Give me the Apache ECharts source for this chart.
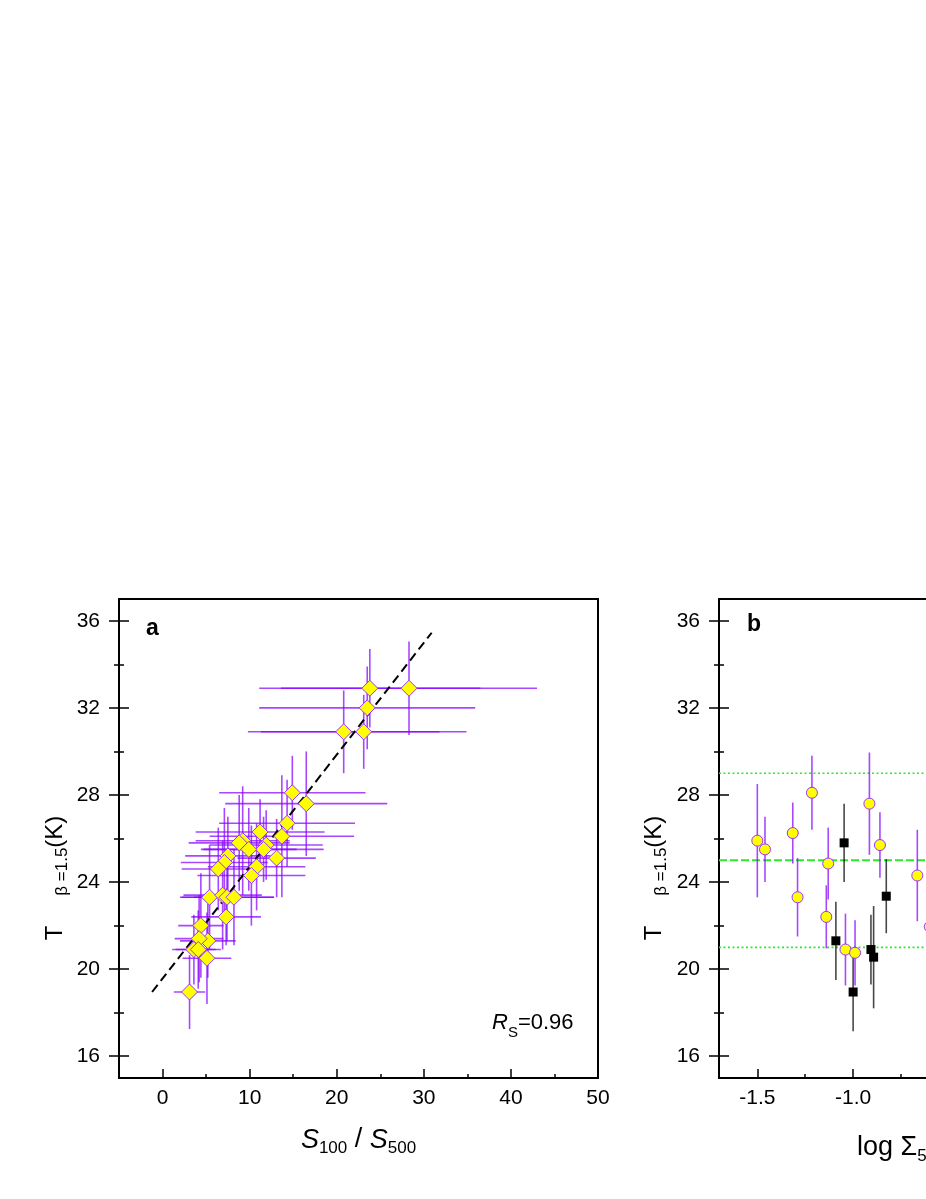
<!DOCTYPE html>
<html>
<head>
<meta charset="utf-8">
<title>T vs S100/S500 and log Sigma5</title>
<script src="https://cdn.jsdelivr.net/npm/echarts@6/dist/echarts.min.js"></script>
<style>
	html, body { margin: 0; padding: 0; background: #fff; }
	#chart { width: 926px; height: 1199px; }
</style>
</head>
<body>
<div id="chart"></div>
<script>
	// ---- panel a : S100/S500 vs T(beta=1.5) ----
	var ratioA = [20.8, 23.1, 23.5, 23.8, 28.3, 14.9, 16.5, 14.3, 13.7, 11.2, 11.9, 11.6, 13.1, 9.2, 8.8, 9.9, 7.5,
		7.1, 6.4, 10.8, 10.2, 5.4, 6.9, 7.4, 8.2, 7.3, 4.4, 5.2, 4.2, 3.6, 4.1, 5.1, 3.1];
	var tempA = [30.9, 30.9, 32.0, 32.9, 32.9, 28.1, 27.6, 26.7, 26.1, 26.3, 25.7, 25.5, 25.1, 25.9, 25.8, 25.5, 25.2,
		24.9, 24.6, 24.7, 24.3, 23.3, 23.4, 23.3, 23.3, 22.4, 22.0, 21.3, 21.4, 20.9, 20.9, 20.5, 18.95];
	var ratioErrA = [11.0, 11.8, 12.4, 12.7, 14.7, 8.4, 9.3, 7.8, 8.3, 7.4, 6.5, 6.9, 4.5, 5.4, 5.8, 5.5, 4.9,
		5.0, 4.2, 5.6, 6.2, 3.2, 4.5, 5.4, 4.6, 4.0, 2.6, 3.2, 2.8, 2.5, 2.6, 2.8, 1.8];
	var tempErrA = [1.9, 1.7, 1.9, 1.8, 2.15, 1.7, 2.4, 2.0, 2.8, 1.5, 1.6, 1.5, 1.8, 2.5, 2.2, 1.9, 1.8,
		2.5, 1.9, 2.0, 2.3, 2.4, 2.5, 2.0, 2.2, 1.3, 2.4, 1.7, 2.0, 1.6, 1.8, 2.1, 1.7];
	// dashed linear fit (end points)
	var fitX = [-1.2, 30.9];
	var fitT = [18.95, 35.45];

	// ---- panel b : log Sigma5 vs T(beta=1.5) ----
	var circX = [-1.50, -1.46, -1.315, -1.215, -1.29, -1.13, -1.14, -1.04, -0.99, -0.915, -0.86, -0.665, -0.60];
	var circT = [25.9, 25.5, 26.25, 28.1, 23.3, 24.85, 22.4, 20.9, 20.75, 27.6, 25.7, 24.3, 21.95];
	var circErr = [2.6, 1.5, 1.4, 1.7, 1.8, 1.65, 1.45, 1.65, 1.5, 2.35, 1.5, 2.1, 1.8];
	var sqX = [-1.047, -1.09, -1.0, -0.907, -0.893, -0.827];
	var sqT = [25.8, 21.3, 18.95, 20.9, 20.55, 23.35];
	var sqErr = [1.8, 1.8, 1.8, 1.6, 2.35, 1.7];
	// mean and +/- range lines
	var refT = [25, 29, 21];

	// ---- ticks ----
	var yMajor = [16, 20, 24, 28, 32, 36];
	var yMinor = [18, 22, 26, 30, 34];
	var aXMajor = [0, 10, 20, 30, 40, 50];
	var aXMinor = [-5, 5, 15, 25, 35, 45];
	var bXMajor = [-1.5, -1.0, -0.5, 0.0, 0.5];
	var bXMinor = [-1.25, -0.75, -0.25, 0.25, 0.75];

	var FONT = 'Arial, "Liberation Sans", Helvetica, sans-serif';
	var PURPLE = 'rgba(136, 0, 255, 0.72)';
	var EDGE = '#9933ff';
	var GREEN = '#2bea2b';

	function errBars(color, width) {
		return function (params, api) {
			var x = api.value(0), y = api.value(1), ex = api.value(2), ey = api.value(3);
			var st = { stroke: color, lineWidth: width };
			var lines = [];
			if (ex > 0) {
				var l = api.coord([x - ex, y]), r = api.coord([x + ex, y]);
				lines.push({ type: 'line', shape: { x1: l[0], y1: l[1], x2: r[0], y2: r[1] }, style: st });
			}
			var t = api.coord([x, y + ey]), b = api.coord([x, y - ey]);
			lines.push({ type: 'line', shape: { x1: t[0], y1: t[1], x2: b[0], y2: b[1] }, style: st });
			return { type: 'group', children: lines };
		};
	}

	function yAxes(g) {
		var base = function () {
			return {
				type: 'value', gridIndex: g, min: 15, max: 37, position: 'left',
				splitLine: { show: false }, axisLine: { show: false, onZero: false }, axisLabel: { show: false },
				axisTick: { show: false }
			};
		};
		var main = base();
		main.axisLine = { show: true, onZero: false, lineStyle: { color: '#000', width: 2 } };
		main.axisLabel = { show: true, customValues: yMajor, margin: 19, color: '#000', fontSize: 21, fontFamily: FONT };
		main.axisTick = { show: true, inside: true, length: 10, customValues: yMajor, lineStyle: { color: '#000', width: 1.5 } };
		var out = base();
		out.axisTick = { show: true, inside: false, length: 10, customValues: yMajor, lineStyle: { color: '#000', width: 1.5 } };
		var minIn = base();
		minIn.axisTick = { show: true, inside: true, length: 5, customValues: yMinor, lineStyle: { color: '#000', width: 1.5 } };
		var minOut = base();
		minOut.axisTick = { show: true, inside: false, length: 5, customValues: yMinor, lineStyle: { color: '#000', width: 1.5 } };
		return [main, out, minIn, minOut];
	}

	function xAxes(g, min, max, major, minor, fmt) {
		var main = {
			type: 'value', gridIndex: g, min: min, max: max, position: 'bottom',
			splitLine: { show: false },
			axisLine: { show: true, onZero: false, lineStyle: { color: '#000', width: 2 } },
			axisLabel: { show: true, customValues: major, margin: 10, color: '#000', fontSize: 21, fontFamily: FONT, formatter: fmt },
			axisTick: { show: true, inside: true, length: 9, customValues: major, lineStyle: { color: '#000', width: 1.5 } }
		};
		var sub = {
			type: 'value', gridIndex: g, min: min, max: max, position: 'bottom',
			splitLine: { show: false }, axisLine: { show: false, onZero: false }, axisLabel: { show: false },
			axisTick: { show: true, inside: true, length: 4, customValues: minor, lineStyle: { color: '#000', width: 1.5 } }
		};
		return [main, sub];
	}

	var main = { fontSize: 27, lineHeight: 34, fontFamily: FONT, color: '#000' };
	var sub = { fontSize: 17, lineHeight: 12, verticalAlign: 'bottom', fontFamily: FONT, color: '#000' };
	function ital(s) { var o = Object.assign({}, s); o.fontStyle = 'italic'; return o; }

	var yTitleRich = {
		m: { fontSize: 24, lineHeight: 32, fontFamily: FONT, fill: '#000' },
		g: { fontSize: 16, lineHeight: 12, width: 30, fontFamily: FONT, fill: '#000' },
		s: { fontSize: 17, lineHeight: 12, verticalAlign: 'bottom', fontFamily: FONT, fill: '#000' }
	};

	var dataA = ratioA.map(function (v, i) { return [v, tempA[i], ratioErrA[i], tempErrA[i]]; });
	var dataCirc = circX.map(function (v, i) { return [v, circT[i], 0, circErr[i]]; });
	var dataSq = sqX.map(function (v, i) { return [v, sqT[i], 0, sqErr[i]]; });

	var series = [
		{
			name: 'errA', type: 'custom', xAxisIndex: 0, yAxisIndex: 0, renderItem: errBars(PURPLE, 1.6),
			data: dataA, z: 1, silent: true, clip: true
		},
		{
			name: 'fit', type: 'line', xAxisIndex: 0, yAxisIndex: 0, symbol: 'none', z: 2, silent: true,
			data: [[fitX[0], fitT[0]], [fitX[1], fitT[1]]],
			lineStyle: { color: '#000', width: 2, type: [9, 5] }
		},
		{
			name: 'a', type: 'scatter', xAxisIndex: 0, yAxisIndex: 0, symbol: 'diamond', symbolSize: 16, z: 3,
			data: ratioA.map(function (v, i) { return [v, tempA[i]]; }),
			itemStyle: { color: '#ffff00', borderColor: EDGE, borderWidth: 1, opacity: 1 }
		}
	];

	refT.forEach(function (v, i) {
		series.push({
			name: 'ref' + i, type: 'line', xAxisIndex: 2, yAxisIndex: 4, symbol: 'none', z: 1, silent: true,
			data: [[-1.7, v], [0.8, v]],
			lineStyle: { color: GREEN, width: i === 0 ? 2.2 : 1.6, type: i === 0 ? [8, 3] : [2, 2.5] }
		});
	});

	series.push(
		{
			name: 'errCirc', type: 'custom', xAxisIndex: 2, yAxisIndex: 4, renderItem: errBars(PURPLE, 1.6),
			data: dataCirc, z: 2, silent: true, clip: true
		},
		{
			name: 'errSq', type: 'custom', xAxisIndex: 2, yAxisIndex: 4, renderItem: errBars('rgba(0,0,0,0.72)', 1.6),
			data: dataSq, z: 2, silent: true, clip: true
		},
		{
			name: 'circ', type: 'scatter', xAxisIndex: 2, yAxisIndex: 4, symbol: 'circle', symbolSize: 11, z: 3,
			data: circX.map(function (v, i) { return [v, circT[i]]; }),
			itemStyle: { color: '#ffff00', borderColor: EDGE, borderWidth: 1, opacity: 1 }
		},
		{
			name: 'sq', type: 'scatter', xAxisIndex: 2, yAxisIndex: 4, symbol: 'rect', symbolSize: 9, z: 3,
			data: sqX.map(function (v, i) { return [v, sqT[i]]; }),
			itemStyle: { color: '#000', opacity: 1 }
		}
	);

	var xs = xAxes(0, -5, 50, aXMajor, aXMinor, null).concat(
		xAxes(1, -1.7, 0.8, bXMajor, bXMinor, function (v) { return v.toFixed(1); }));
	xs[0].name = '{i|S}{s|100}{m| / }{i|S}{s|500}';
	xs[0].nameLocation = 'middle';
	xs[0].nameGap = 45;
	xs[0].nameTextStyle = { rich: { i: ital(main), m: main, s: sub } };

	var yTitle = '{m|T}{g| }{s|β =1.5}{m|(K)}';

	var option = {
		animation: false,
		backgroundColor: '#fff',
		grid: [
			{ left: 119, top: 599, width: 479, height: 479, show: true, borderColor: '#000', borderWidth: 2, outerBoundsMode: 'none' },
			{ left: 719, top: 599, width: 479, height: 479, show: true, borderColor: '#000', borderWidth: 2, outerBoundsMode: 'none' }
		],
		xAxis: xs,
		yAxis: yAxes(0).concat(yAxes(1)),
		graphic: [
			{ type: 'text', left: 146, top: 617, style: { text: 'a', font: 'bold 23px ' + FONT, fill: '#000' } },
			{ type: 'text', left: 747, top: 613, style: { text: 'b', font: 'bold 23px ' + FONT, fill: '#000' } },
			{
				type: 'text', x: 492, y: 1023,
				style: {
					text: '{i|R}{s|S}{m|=0.96}', textVerticalAlign: 'middle', textAlign: 'left',
					rich: {
						i: { fontSize: 22, lineHeight: 34, fontStyle: 'italic', fontFamily: FONT, fill: '#000' },
						m: { fontSize: 22, lineHeight: 34, fontFamily: FONT, fill: '#000' },
						s: { fontSize: 15, lineHeight: 13, verticalAlign: 'bottom', fontFamily: FONT, fill: '#000' }
					}
				}
			},
			{
				type: 'text', x: 55, y: 878, rotation: Math.PI / 2,
				style: { text: yTitle, textAlign: 'center', textVerticalAlign: 'middle', rich: yTitleRich }
			},
			{
				type: 'text', x: 654, y: 878, rotation: Math.PI / 2,
				style: { text: yTitle, textAlign: 'center', textVerticalAlign: 'middle', rich: yTitleRich }
			},
			{
				type: 'text', x: 857, y: 1148,
				style: {
					text: '{m|log Σ}{s|5}{m| (Mpc}{p|−2}{m|)}', textAlign: 'left', textVerticalAlign: 'middle',
					rich: {
						m: { fontSize: 27, lineHeight: 34, fontFamily: FONT, fill: '#000' },
						s: { fontSize: 17, lineHeight: 12, verticalAlign: 'bottom', fontFamily: FONT, fill: '#000' },
						p: { fontSize: 17, lineHeight: 12, verticalAlign: 'top', fontFamily: FONT, fill: '#000' }
					}
				}
			}
		],
		series: series
	};

	var myChart = echarts.init(document.getElementById('chart'));
	myChart.setOption(option);
</script>
</body>
</html>
